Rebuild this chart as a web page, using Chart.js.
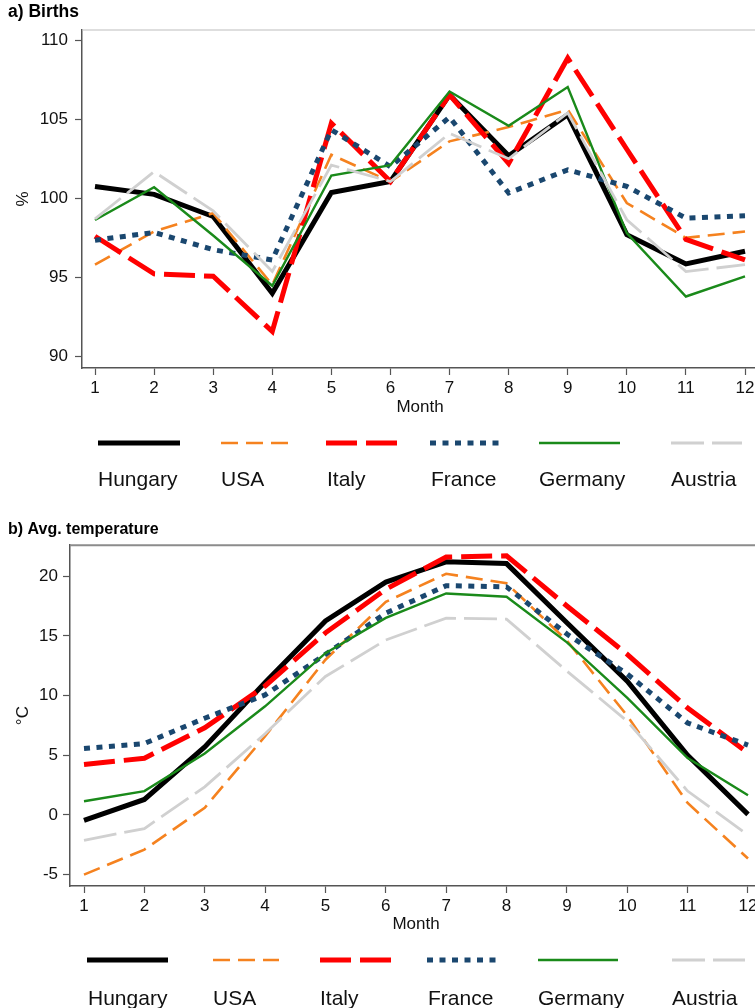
<!DOCTYPE html>
<html>
<head>
<meta charset="utf-8">
<script src="https://cdn.jsdelivr.net/npm/chart.js@4.4.1/dist/chart.umd.min.js"></script>
<style>
  html, body { margin: 0; padding: 0; background: #fff; overflow: hidden; width: 755px; height: 1008px; }
  .panel { position: absolute; left: 0; width: 780px; }
  #wrapA { top: 0; height: 500px; }
  #wrapB { top: 516px; height: 492px; }
</style>
</head>
<body>
<div class="panel" id="wrapA"><canvas id="chartA" width="780" height="500"></canvas></div>
<div class="panel" id="wrapB"><canvas id="chartB" width="780" height="492"></canvas></div>
<script>
// --- dados ---
var months = [1, 2, 3, 4, 5, 6, 7, 8, 9, 10, 11, 12];
var countries = ['Hungary', 'USA', 'Italy', 'France', 'Germany', 'Austria'];

// a) Births (%)
var birthsHungary = [100.75, 100.25, 98.85, 94.0, 100.37, 101.06, 106.54, 102.69, 105.28, 97.7, 95.85, 96.65];
var birthsUSA     = [95.8, 97.9, 99.06, 94.53, 102.75, 101.06, 103.6, 104.5, 105.6, 99.7, 97.5, 97.9];
var birthsItaly   = [97.6, 95.22, 95.07, 91.58, 104.75, 101.06, 106.54, 102.2, 108.86, 103.1, 97.4, 96.1];
var birthsFrance  = [97.35, 97.84, 96.75, 96.1, 104.33, 102.0, 105.13, 100.33, 101.8, 100.75, 98.75, 98.9];
var birthsGermany = [98.63, 100.7, 97.65, 94.47, 101.44, 102.1, 106.75, 104.58, 107.03, 97.8, 93.79, 95.06];
var birthsAustria = [98.7, 101.68, 99.2, 95.37, 102.1, 101.06, 104.1, 102.5, 105.4, 98.64, 95.37, 95.8];

// b) Avg. temperature (°C)
var tempHungary = [-0.45, 1.3, 5.7, 11.1, 16.25, 19.5, 21.2, 21.05, 16.1, 11.2, 5.0, 0.05];
var tempUSA     = [-5.0, -2.9, 0.6, 6.6, 13.0, 17.85, 20.2, 19.4, 14.6, 8.3, 1.0, -3.65];
var tempItaly   = [4.22, 4.75, 7.3, 10.8, 15.25, 18.9, 21.6, 21.7, 17.5, 13.45, 8.95, 5.2];
var tempFrance  = [5.56, 5.98, 8.1, 10.05, 13.45, 16.9, 19.2, 19.1, 15.15, 11.8, 7.7, 5.85];
var tempGermany = [1.15, 2.0, 5.15, 9.1, 13.55, 16.5, 18.55, 18.27, 14.45, 9.8, 4.77, 1.65];
var tempAustria = [-2.12, -1.14, 2.35, 6.8, 11.6, 14.65, 16.48, 16.4, 12.05, 7.85, 2.0, -1.68];

var birthTicks = [90, 95, 100, 105, 110];
var tempTicks = [-5, 0, 5, 10, 15, 20];

// --- estilos (estilo Stata) ---
var lineColors = ['#000000', '#f5821f', '#ff0000', '#1a476f', '#1a8a1a', '#d0d0d0'];
var lineWidths = [5, 2.6, 5, 5, 2.4, 2.8];
var lineDashes = [[], [17, 8], [31, 9], [6, 6.5], [], [33, 8]];

var FONT = '"Liberation Sans", Arial, sans-serif';
Chart.defaults.font.family = FONT;
Chart.defaults.color = '#111';

function buildDatasets(series) {
  return series.map(function(values, i) {
    return {
      label: countries[i],
      data: values.map(function(v, j) { return { x: months[j], y: v }; }),
      borderColor: lineColors[i],
      borderWidth: lineWidths[i],
      borderDash: lineDashes[i],
      borderCapStyle: 'butt',
      borderJoinStyle: 'miter',
      pointRadius: 0,
      tension: 0,
      fill: false,
      order: series.length - i   // ultimo pais desenhado por cima
    };
  });
}

// legenda + moldura
var stataLegend = {
  id: 'stataLegend',
  afterDraw: function(chart, args, opts) {
    var ctx = chart.ctx;
    var a = chart.chartArea;
    ctx.save();
    ctx.strokeStyle = opts.frameColor;
    ctx.lineWidth = opts.frameWidth;
    ctx.setLineDash([]);
    ctx.beginPath();
    ctx.moveTo(a.left, a.top);
    ctx.lineTo(a.right, a.top);
    ctx.lineTo(a.right, a.bottom);
    ctx.stroke();

    chart.data.datasets.forEach(function(ds, i) {
      var k = opts.keys[i];
      ctx.beginPath();
      ctx.strokeStyle = ds.borderColor;
      ctx.lineWidth = ds.borderWidth;
      ctx.lineCap = 'butt';
      ctx.setLineDash(ds.borderDash || []);
      ctx.moveTo(k[0], opts.lineY);
      ctx.lineTo(k[1], opts.lineY);
      ctx.stroke();
      ctx.setLineDash([]);
      ctx.fillStyle = '#111';
      ctx.font = '21px ' + FONT;
      ctx.textBaseline = 'alphabetic';
      ctx.textAlign = 'left';
      ctx.fillText(ds.label, k[2], opts.textY);
    });
    ctx.restore();
  }
};

function makeChart(id, cfg) {
  var ctx = document.getElementById(id).getContext('2d');
  return new Chart(ctx, {
    type: 'line',
    data: { datasets: buildDatasets(cfg.series) },
    plugins: [stataLegend],
    options: {
      responsive: false,
      animation: false,
      devicePixelRatio: 1,
      layout: { padding: { left: 8, right: cfg.padRight, top: 0, bottom: cfg.padBottom } },
      plugins: {
        legend: { display: false },
        tooltip: { enabled: false },
        title: {
          display: true,
          text: cfg.title,
          align: 'start',
          color: '#000',
          font: { size: cfg.titleSize, weight: 'bold', family: FONT },
          padding: cfg.titlePad
        },
        stataLegend: {
          keys: cfg.keys,
          lineY: cfg.keyLineY,
          textY: cfg.keyTextY,
          frameColor: cfg.frameColor,
          frameWidth: cfg.frameWidth
        }
      },
      scales: {
        x: {
          type: 'linear',
          min: cfg.xMin,
          max: cfg.xMax,
          afterBuildTicks: function(scale) { scale.ticks = months.map(function(m) { return { value: m }; }); },
          afterFit: function(scale) { scale.height = 50; },
          ticks: { font: { size: 17 }, color: '#111', padding: 3, maxRotation: 0, autoSkip: false },
          grid: { display: true, drawOnChartArea: false, tickLength: 7, tickWidth: 1.2, tickColor: '#555' },
          border: { display: true, color: '#555', width: 1.5 },
          title: { display: true, text: 'Month', font: { size: 17 }, color: '#111', padding: { top: 0, bottom: cfg.monthPad } }
        },
        y: {
          type: 'linear',
          min: cfg.yMin,
          max: cfg.yMax,
          afterBuildTicks: function(scale) { scale.ticks = cfg.yTicks.map(function(v) { return { value: v }; }); },
          afterFit: function(scale) { scale.width = cfg.yWidth; },
          ticks: { font: { size: 17 }, color: '#111', padding: cfg.yTickPad },
          grid: { display: true, drawOnChartArea: false, tickLength: 7, tickWidth: 1.2, tickColor: '#555' },
          border: { display: true, color: '#555', width: 1.5 },
          title: { display: true, text: cfg.yTitle, font: { size: 17 }, color: '#111', padding: { top: 5, bottom: 0 } }
        }
      }
    }
  });
}

makeChart('chartA', {
  series: [birthsHungary, birthsUSA, birthsItaly, birthsFrance, birthsGermany, birthsAustria],
  title: 'a) Births',
  titleSize: 17.5,
  titlePad: { top: 2, bottom: 7 },
  yTitle: '%',
  yTicks: birthTicks,
  yTickPad: 7,
  yMin: 89.27, yMax: 110.64,
  xMin: 0.78, xMax: 12.22,
  yWidth: 74,
  padRight: 22,
  padBottom: 82,
  monthPad: 0,
  keys: [[98, 180, 98], [221, 288, 221], [326, 397, 327], [430, 500, 431], [539, 620, 539], [671, 742, 671]],
  keyLineY: 443,
  keyTextY: 486,
  frameColor: '#bdbdbd',
  frameWidth: 1
});

makeChart('chartB', {
  series: [tempHungary, tempUSA, tempItaly, tempFrance, tempGermany, tempAustria],
  title: 'b) Avg. temperature',
  titleSize: 16,
  titlePad: { top: 4, bottom: 6 },
  yTitle: '°C',
  yTicks: tempTicks,
  yTickPad: 5,
  yMin: -5.95, yMax: 22.59,
  xMin: 0.768, xMax: 12.232,
  yWidth: 62,
  padRight: 18,
  padBottom: 72,
  monthPad: 1,
  keys: [[87, 168, 88], [213, 279, 213], [320, 391, 320], [427, 497, 428], [538, 618, 538], [672, 745, 672]],
  keyLineY: 444,
  keyTextY: 489,
  frameColor: '#8c8c8c',
  frameWidth: 2
});
</script>
</body>
</html>
